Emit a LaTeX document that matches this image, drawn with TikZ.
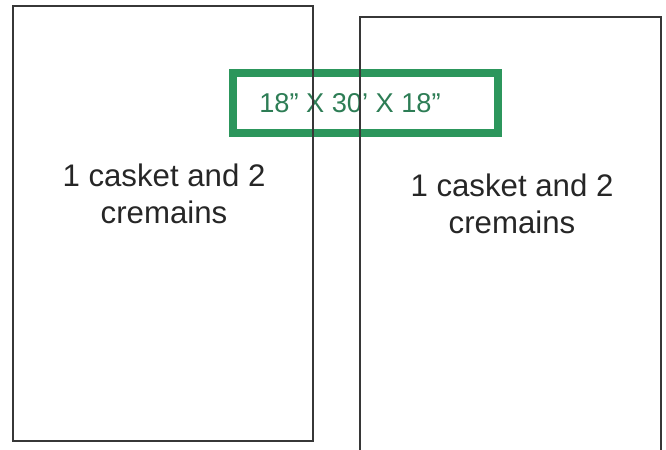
\documentclass[tikz,border=0pt]{standalone}
\usepackage{fontspec}
\setmainfont{Liberation Sans}

\definecolor{boxgreen}{RGB}{44,150,92}
\definecolor{textgreen}{RGB}{45,125,85}
\definecolor{linegray}{RGB}{55,55,55}

\begin{document}
\begin{tikzpicture}[
        x = 0.5pt, y = -0.5pt,
        line join=miter,
        plotline/.style = {line width=0.8pt, linegray},
        sizebox/.style = {line width=4pt, boxgreen, fill=white},
        plottext/.style = {align=center, font=\fontsize{15.6}{18.5}\selectfont, text=black!85}
    ]

    \useasboundingbox (0,0) rectangle (666,450);

        \coordinate (1) at (13,6);
        \coordinate (2) at (313,441);
        \coordinate (3) at (360,17);
        \coordinate (4) at (661,17);

    % size of the green box
    \draw[sizebox] (233,73) rectangle (498,133);
    \node[text=textgreen, font=\fontsize{13.6}{16}\selectfont] (size) at (350,103) {18” X 30’ X 18”};

    % left plot
    \draw[plotline] (1) rectangle (2);
    % right plot, open at the bottom
    \draw[plotline] (3 |- 0,450) -- (3) -- (4) -- (4 |- 0,450);

    \node[plottext] (lefttext) at (164,194) {1 casket and 2\\cremains};
    \node[plottext] (righttext) at (512,204) {1 casket and 2\\cremains};

\end{tikzpicture}
\end{document}
